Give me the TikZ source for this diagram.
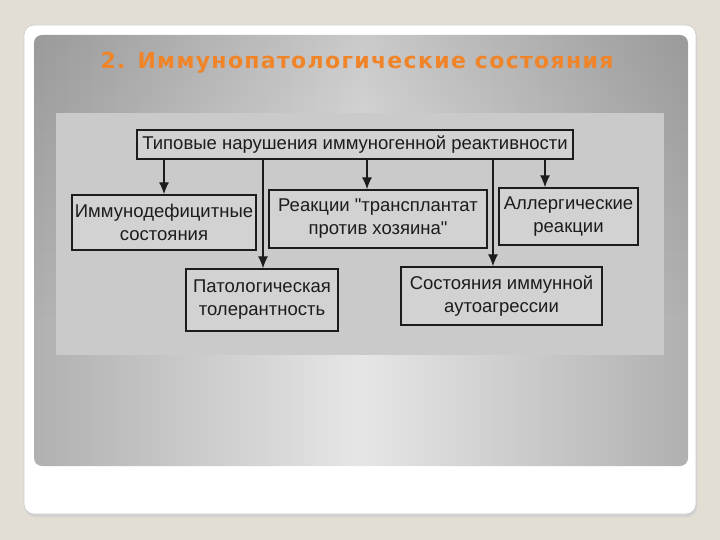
\documentclass[tikz,border=0pt]{standalone}
\usepackage{fontspec}
\setmainfont{Liberation Sans}[Ligatures=TeXOff]
\newfontfamily\titlefont[LetterSpace=6]{DejaVu Sans}
\usetikzlibrary{arrows.meta,fadings}
\definecolor{pagebg}{RGB}{227,222,211}
\definecolor{titleorange}{RGB}{240,132,40}
\definecolor{panelside}{RGB}{176,176,176}
\definecolor{panelmid}{RGB}{230,230,230}
\definecolor{photobg}{RGB}{202,202,202}
\definecolor{boxfill}{RGB}{210,210,210}
\definecolor{ink}{RGB}{28,28,28}
\tikzset{
  box/.style={draw=ink, line width=1.4pt, fill=boxfill, text=ink, align=center,
    inner sep=0pt, font=\fontsize{18.5}{23}\selectfont},
  arr/.style={draw=ink, line width=1.2pt, -{Latex[length=12pt,width=10pt]}},
}
\begin{document}
\begin{tikzpicture}[x=1pt,y=-1pt]
\useasboundingbox (0,0) rectangle (720,540);
\fill[pagebg] (0,0) rectangle (720,540);
% card shadow and card
\fill[gray!35, rounded corners=10pt] (25,27) rectangle (697,517);
\fill[white, draw=gray!40, line width=0.6pt, rounded corners=10pt] (24,25) rectangle (696,514);
% panel
\shade[rounded corners=8pt, left color=panelside, right color=panelside, middle color=panelmid]
  (34,35) rectangle (688,466);
\fill[black, opacity=0.12, path fading=south, rounded corners=8pt] (34,35) rectangle (688,320);
% title
\node[text=titleorange, font=\titlefont\bfseries\fontsize{22}{25}\selectfont] (title) at (357,63)
  {2. Иммунопатологические состояния};
% photo area
\fill[photobg] (56,113) rectangle (664,355);
% boxes
\node[box, minimum width=436pt, minimum height=29pt] (top) at (355,144.5)
  {Типовые нарушения иммуногенной реактивности};
\node[box, minimum width=184pt, minimum height=55pt] (b1) at (164,222.5)
  {Иммунодефицитные\\состояния};
\node[box, minimum width=218pt, minimum height=58pt] (b2) at (378,219)
  {Реакции "трансплантат\\против хозяина"};
\node[box, minimum width=139pt, minimum height=57pt] (b3) at (568.5,216.5)
  {Аллергические\\реакции};
\node[box, minimum width=152pt, minimum height=62pt] (b4) at (262,300)
  {Патологическая\\толерантность};
\node[box, minimum width=201pt, minimum height=58pt] (b5) at (501.5,296)
  {Состояния иммунной\\аутоагрессии};
% connector x positions
\coordinate (x1) at (164,0);
\coordinate (x2) at (367,0);
\coordinate (x3) at (545,0);
\coordinate (x4) at (263,0);
\coordinate (x5) at (493,0);
\draw[arr] (top.south -| x1) -- (b1.north -| x1);
\draw[arr] (top.south -| x2) -- (b2.north -| x2);
\draw[arr] (top.south -| x3) -- (b3.north -| x3);
\draw[arr] (top.south -| x4) -- (b4.north -| x4);
\draw[arr] (top.south -| x5) -- (b5.north -| x5);
\end{tikzpicture}
\end{document}
